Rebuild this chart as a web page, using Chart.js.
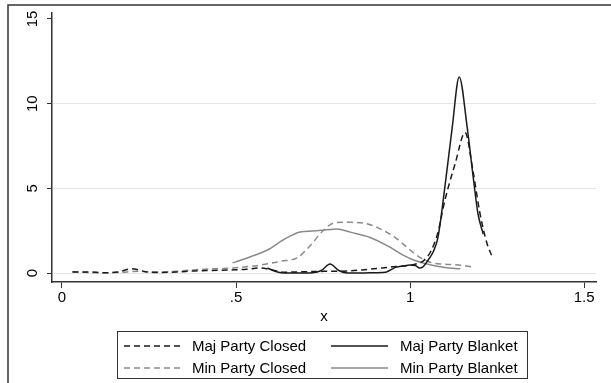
<!DOCTYPE html>
<html>
<head>
<meta charset="utf-8">
<script src="https://cdn.jsdelivr.net/npm/chart.js@4"></script>
<style>
  body { margin: 0; background: #fff; }
  #wrap { width: 611px; height: 383px; }
</style>
</head>
<body>
<div id="wrap"><canvas id="myChart" width="611" height="383"></canvas></div>
<script>
// density curves
const majClosedX = [0.03, 0.08, 0.12, 0.16, 0.2, 0.24, 0.28, 0.33, 0.38, 0.43, 0.48, 0.53, 0.57, 0.6, 0.64, 0.7, 0.76, 0.82, 0.87, 0.92, 0.96, 1.0, 1.02, 1.04, 1.06, 1.08, 1.1, 1.13, 1.158, 1.18, 1.2, 1.22, 1.236];
const majClosedY = [0.06, 0.06, 0.02, 0.06, 0.25, 0.08, 0.03, 0.06, 0.12, 0.15, 0.18, 0.22, 0.3, 0.2, 0.05, 0.08, 0.1, 0.12, 0.2, 0.3, 0.38, 0.45, 0.55, 0.75, 1.3, 2.4, 4.3, 6.5, 8.3, 6.1, 3.6, 1.8, 0.95];

const majBlanketX = [0.59, 0.61, 0.63, 0.67, 0.72, 0.745, 0.77, 0.795, 0.82, 0.86, 0.9, 0.93, 0.96, 0.98, 1.0, 1.015, 1.026, 1.036, 1.052, 1.066, 1.08, 1.1, 1.121, 1.141, 1.164, 1.181, 1.195, 1.21];
const majBlanketY = [0.3, 0.12, 0.02, 0.0, 0.02, 0.15, 0.53, 0.15, 0.0, 0.0, 0.02, 0.05, 0.35, 0.42, 0.47, 0.45, 0.3, 0.35, 0.77, 1.24, 2.1, 5.1, 8.6, 11.58, 8.6, 5.7, 3.5, 2.3];

const minClosedX = [0.03, 0.1, 0.16, 0.22, 0.28, 0.34, 0.4, 0.49, 0.57, 0.63, 0.675, 0.71, 0.75, 0.78, 0.81, 0.865, 0.92, 0.96, 1.0, 1.03, 1.06, 1.1, 1.14, 1.18];
const minClosedY = [0.08, 0.02, 0.03, 0.1, 0.06, 0.12, 0.22, 0.3, 0.47, 0.7, 0.89, 1.55, 2.5, 2.95, 3.0, 2.95, 2.55, 2.05, 1.36, 0.9, 0.62, 0.52, 0.48, 0.35];

const minBlanketX = [0.49, 0.54, 0.59, 0.635, 0.684, 0.72, 0.76, 0.79, 0.83, 0.885, 0.94, 0.98, 1.01, 1.06, 1.1, 1.144];
const minBlanketY = [0.6, 0.95, 1.36, 1.95, 2.42, 2.48, 2.55, 2.6, 2.4, 2.1, 1.55, 1.06, 0.77, 0.47, 0.33, 0.25];

const xTicks = [0, 0.5, 1, 1.5];
const xTickLabels = ["0", ".5", "1", "1.5"];
const yTicks = [0, 5, 10, 15];
const yTickLabels = ["0", "5", "10", "15"];

const FONT = "'Liberation Sans', Arial, Helvetica, sans-serif";
const BLACK = '#1a1a1a';
const GRAY = '#8a8a8a';

function pts(xs, ys) {
    return xs.map((x, i) => ({ x: x, y: ys[i] }));
}

function series(label, xs, ys, color, dash) {
    return {
        label: label,
        data: pts(xs, ys),
        borderColor: color,
        borderWidth: 1.5,
        borderDash: dash,
        pointRadius: 0,
        cubicInterpolationMode: 'monotone',
        fill: false
    };
}

const datasets = [
    series("Maj Party Closed", majClosedX, majClosedY, BLACK, [6, 4]),
    series("Maj Party Blanket", majBlanketX, majBlanketY, BLACK, []),
    series("Min Party Closed", minClosedX, minClosedY, GRAY, [6, 4]),
    series("Min Party Blanket", minBlanketX, minBlanketY, GRAY, [])
];

// outer frame, rotated y labels and boxed legend
const decor = {
    id: 'decor',
    afterDraw(chart) {
        const ctx = chart.ctx;
        const y = chart.scales.y;
        ctx.save();

        ctx.strokeStyle = '#333';
        ctx.lineWidth = 1.5;
        ctx.strokeRect(8, 5, 700, 500);

        ctx.fillStyle = '#000';
        ctx.font = '15px ' + FONT;
        ctx.textAlign = 'center';
        ctx.textBaseline = 'middle';
        yTicks.forEach((v, i) => {
            ctx.save();
            ctx.translate(33, y.getPixelForValue(v));
            ctx.rotate(-Math.PI / 2);
            ctx.fillText(yTickLabels[i], 0, 0);
            ctx.restore();
        });

        // legend
        ctx.strokeStyle = '#333';
        ctx.lineWidth = 1;
        ctx.strokeRect(117.5, 331.5, 410, 47);
        const cols = [{ x0: 124, x1: 180, tx: 192 }, { x0: 331, x1: 388, tx: 400 }];
        const rows = [346, 368];
        const order = [[0, 1], [2, 3]];
        ctx.textAlign = 'left';
        order.forEach((row, r) => {
            row.forEach((di, c) => {
                const ds = datasets[di];
                ctx.beginPath();
                ctx.setLineDash(ds.borderDash);
                ctx.strokeStyle = ds.borderColor;
                ctx.lineWidth = 1.5;
                ctx.moveTo(cols[c].x0, rows[r]);
                ctx.lineTo(cols[c].x1, rows[r]);
                ctx.stroke();
                ctx.setLineDash([]);
                ctx.fillStyle = '#000';
                ctx.fillText(ds.label, cols[c].tx, rows[r] + 1);
            });
        });
        ctx.restore();
    }
};

const chart = new Chart("myChart", {
    type: "line",
    plugins: [decor],
    data: { datasets: datasets },
    options: {
        responsive: false,
        animation: false,
        devicePixelRatio: 1,
        layout: { padding: { left: 47, top: 13, right: 15, bottom: 57 } },
        plugins: {
            legend: { display: false },
            tooltip: { enabled: false }
        },
        scales: {
            x: {
                type: 'linear',
                min: -0.0287,
                max: 1.534,
                afterBuildTicks: (s) => { s.ticks = xTicks.map(v => ({ value: v })); },
                ticks: {
                    color: '#000',
                    font: { family: FONT, size: 15 },
                    padding: 1,
                    maxRotation: 0,
                    callback: (v) => xTickLabels[xTicks.indexOf(v)]
                },
                grid: {
                    drawOnChartArea: false,
                    tickLength: 6,
                    tickColor: '#333'
                },
                border: { color: '#333', width: 1.5 },
                title: {
                    display: true,
                    text: 'x',
                    color: '#000',
                    font: { family: FONT, size: 15 },
                    padding: { top: 0, bottom: 0 }
                }
            },
            y: {
                type: 'linear',
                min: -0.53,
                max: 15.354,
                afterBuildTicks: (s) => { s.ticks = yTicks.map(v => ({ value: v })); },
                ticks: { display: false },
                grid: {
                    color: (c) => (c.tick && c.tick.value === 15) ? 'rgba(0,0,0,0)' : '#e6e6e6',
                    lineWidth: 1,
                    tickLength: 5,
                    tickColor: '#333'
                },
                border: { color: '#333', width: 1.5 }
            }
        }
    }
});
</script>
</body>
</html>
